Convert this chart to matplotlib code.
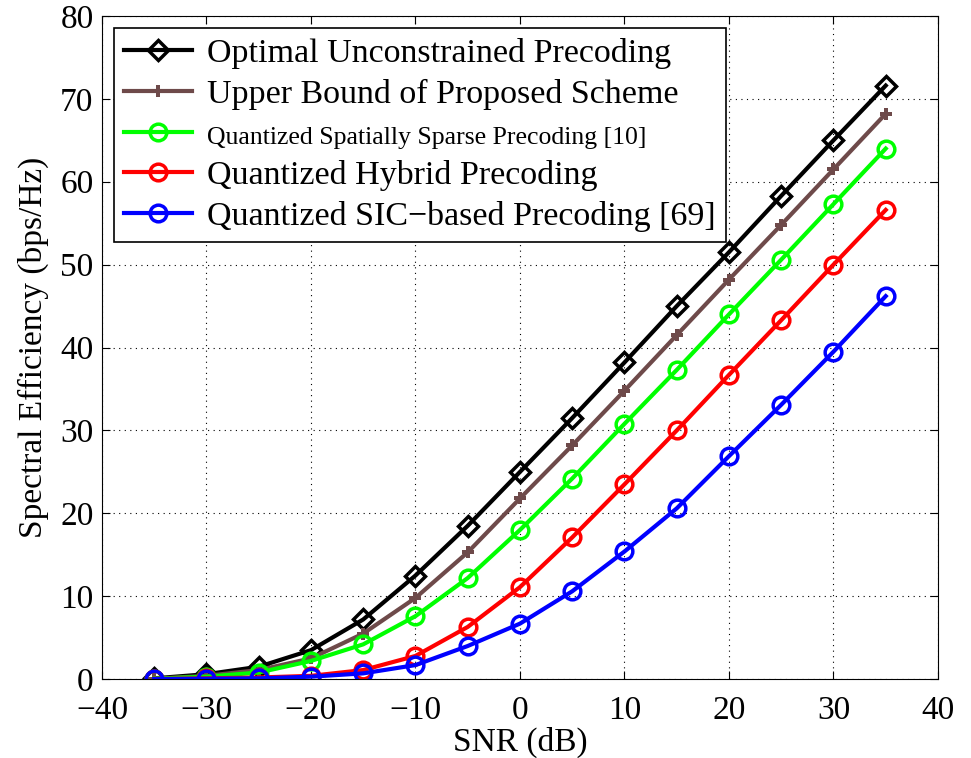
import matplotlib
matplotlib.use("Agg")
import matplotlib.pyplot as plt

plt.rcParams['font.family'] = ['Liberation Serif', 'DejaVu Serif']

snr = [-35, -30, -25, -20, -15, -10, -5, 0, 5, 10, 15, 20, 25, 30, 35]

optimal = [0.1, 0.6, 1.5, 3.5, 7.2, 12.5, 18.5, 25.0, 31.5, 38.2, 45.0, 51.5, 58.3, 65.0, 71.6]
upper = [0.05, 0.4, 1.1, 2.5, 5.5, 9.8, 15.3, 21.8, 28.2, 34.8, 41.5, 48.2, 54.8, 61.5, 68.2]
sparse = [0.05, 0.3, 0.8, 2.2, 4.2, 7.6, 12.2, 18.0, 24.2, 30.8, 37.3, 44.0, 50.6, 57.3, 64.0]
hybrid = [0.02, 0.1, 0.2, 0.4, 1.1, 2.8, 6.3, 11.1, 17.1, 23.5, 30.0, 36.7, 43.3, 50.0, 56.6]
sic = [0.01, 0.05, 0.1, 0.3, 0.7, 1.7, 4.0, 6.7, 10.6, 15.4, 20.6, 26.9, 33.1, 39.5, 46.2]

labels = ['Optimal Unconstrained Precoding',
          'Upper Bound of Proposed Scheme',
          'Quantized Spatially Sparse Precoding [10]',
          'Quantized Hybrid Precoding',
          'Quantized SIC\u2212based Precoding [69]']

fig = plt.figure(figsize=(9.71, 7.58), dpi=100)
ax = fig.add_axes([0.105, 0.104, 0.861, 0.875])

ms = 12
mew = 2.5
ax.plot(snr, optimal, '-D', color='black', lw=3, ms=10, mew=mew, mfc='none', label=labels[0])
ax.plot(snr, upper, '-P', color='#6e4a4a', lw=3, ms=9, mew=0, label=labels[1])
ax.plot(snr, sparse, '-o', color='#00ff00', lw=3, ms=ms, mew=mew, mfc='none', label=labels[2])
ax.plot(snr, hybrid, '-o', color='#ff0000', lw=3, ms=ms, mew=mew, mfc='none', label=labels[3])
ax.plot(snr, sic, '-o', color='#0000ff', lw=3, ms=ms, mew=mew, mfc='none', label=labels[4])

ax.set_xlim(-40, 40)
ax.set_ylim(0, 80)
ax.set_xticks(range(-40, 41, 10))
ax.set_yticks(range(0, 81, 10))
ax.set_xticklabels([str(v).replace('-', '\u2212') for v in range(-40, 41, 10)])
ax.tick_params(labelsize=24, direction='in', length=6, top=True, right=True)
ax.tick_params(axis='y', pad=6)
ax.tick_params(axis='x', pad=12)
ax.grid(True, linestyle=(0, (1, 4)), color='black', lw=0.8)
ax.set_xlabel('SNR (dB)', fontsize=24, labelpad=0)
ax.set_ylabel('Spectral Efficiency (bps/Hz)', fontsize=24, labelpad=8)

leg = ax.legend(loc='upper left', fontsize=24.5, frameon=True, fancybox=False,
                edgecolor='black', framealpha=1, handlelength=2.0,
                borderaxespad=0.35, labelspacing=0.3, handletextpad=0.45,
                borderpad=0.3)
leg.get_frame().set_linewidth(1.2)
leg.get_texts()[2].set_fontsize(18.5)

fig.savefig('out.png', dpi=100)
